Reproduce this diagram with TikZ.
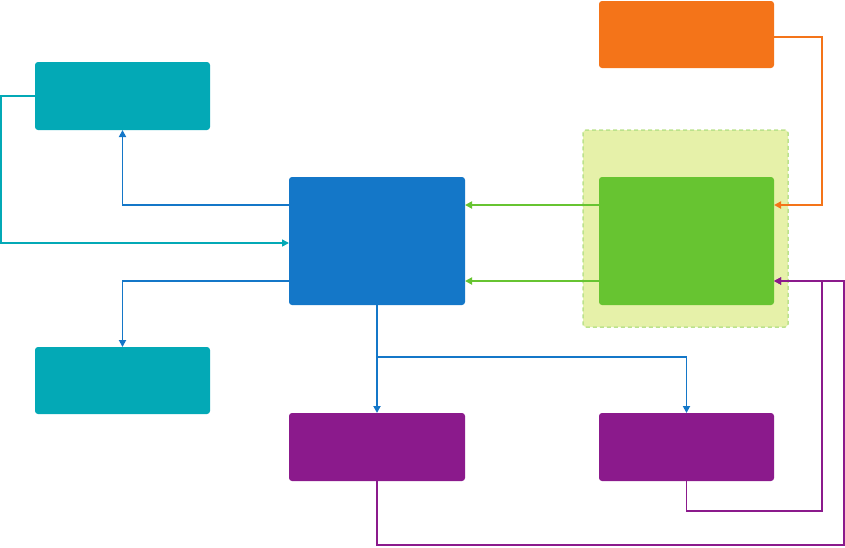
\documentclass[tikz,border=0pt]{standalone}
\usetikzlibrary{arrows.meta}
\definecolor{cteal}{HTML}{03A9B6}
\definecolor{cblue}{HTML}{1477C8}
\definecolor{cgreen}{HTML}{67C431}
\definecolor{cgfill}{HTML}{E6F1A9}
\definecolor{cgdash}{HTML}{BCE28C}
\definecolor{corange}{HTML}{F47419}
\definecolor{cpurple}{HTML}{8B1A8C}
\tikzset{
  box/.style={rectangle, rounded corners=3pt, inner sep=0pt, outer sep=0pt},
  conn/.style={line width=1.8pt, -{Triangle[length=7pt,width=7pt]}}
}
\begin{document}
\begin{tikzpicture}[x=1pt,y=-1pt]
\useasboundingbox (0,0) rectangle (845,547);
% container
\node[box, fill=cgfill, draw=cgdash, line width=1.5pt, dash pattern=on 4pt off 3pt, minimum width=205pt, minimum height=197pt] (cont) at (685.5,228.5) {};
% boxes
\node[box, fill=corange, minimum width=175pt, minimum height=67pt] (orange) at (686.5,34.5) {};
\node[box, fill=cteal, minimum width=175pt, minimum height=68pt] (tealtop) at (122.5,96) {};
\node[box, fill=cblue, minimum width=176pt, minimum height=128pt] (blue) at (377,241) {};
\node[box, fill=cgreen, minimum width=175pt, minimum height=128pt] (green) at (686.5,241) {};
\node[box, fill=cteal, minimum width=175pt, minimum height=67pt] (tealbot) at (122.5,380.5) {};
\node[box, fill=cpurple, minimum width=176pt, minimum height=68pt] (purpL) at (377,447) {};
\node[box, fill=cpurple, minimum width=175pt, minimum height=68pt] (purpR) at (686.5,447) {};
\coordinate (c1) at (822,511);
\coordinate (c2) at (844,545);
% connectors
\draw[conn, cblue] ([yshift=36pt]blue.west) -| (tealtop.south);
\draw[conn, cblue] ([yshift=-40pt]blue.west) -| (tealbot.north);
\draw[conn, cteal, line width=1.5pt] (tealtop.west) -- ++(-34,0) |- ([yshift=-2pt]blue.west);
\draw[conn, cblue] (blue.south) -- (purpL.north);
\draw[conn, cblue] ([yshift=-52pt]blue.south) -| (purpR.north);
\draw[conn, cgreen] ([yshift=36pt]green.west) -- ([yshift=36pt]blue.east);
\draw[conn, cgreen] ([yshift=-40pt]green.west) -- ([yshift=-40pt]blue.east);
\draw[conn, corange] ([yshift=-2.5pt]orange.east) -- ++(48,0) |- ([yshift=36pt]green.east);
\draw[conn, cpurple] (purpR.south) |- (c1) |- ([yshift=-40pt]green.east);
\draw[conn, cpurple] (purpL.south) |- (c2) |- ([yshift=-40pt]green.east);
\end{tikzpicture}
\end{document}
